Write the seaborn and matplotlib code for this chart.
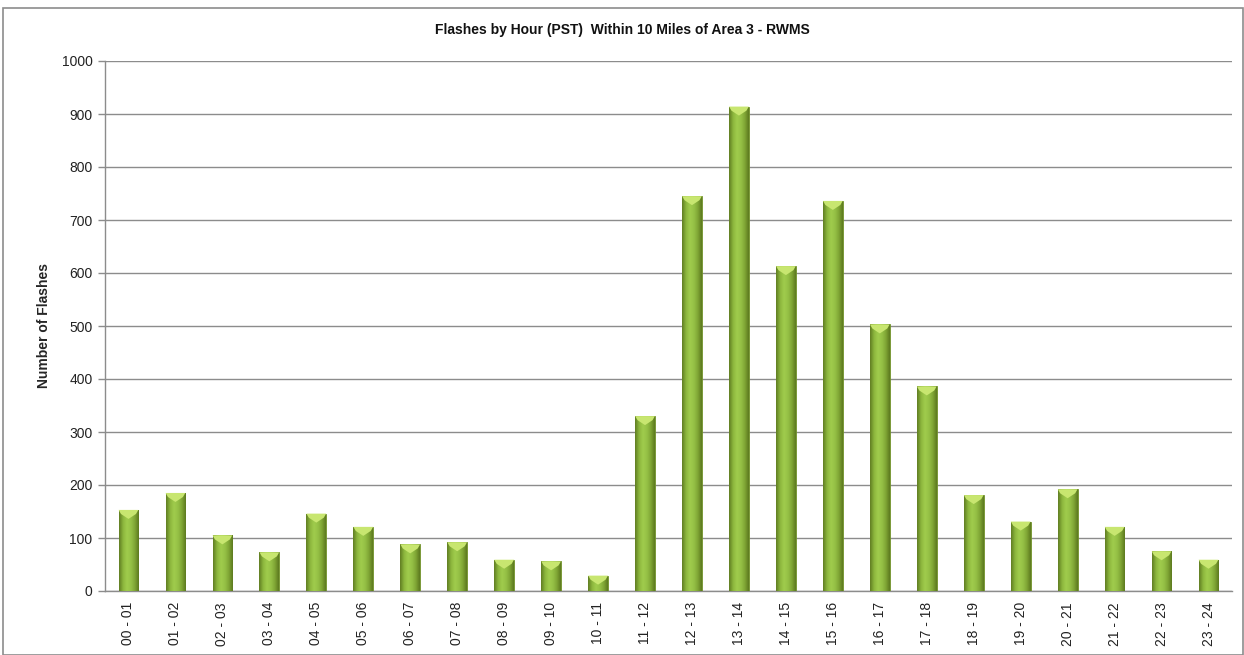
import numpy as np
import pandas as pd
import matplotlib
matplotlib.use("Agg")
import matplotlib.pyplot as plt
from matplotlib.colors import LinearSegmentedColormap
from matplotlib.patches import Rectangle
import seaborn as sns

hours = ["00 - 01", "01 - 02", "02 - 03", "03 - 04", "04 - 05", "05 - 06",
         "06 - 07", "07 - 08", "08 - 09", "09 - 10", "10 - 11", "11 - 12",
         "12 - 13", "13 - 14", "14 - 15", "15 - 16", "16 - 17", "17 - 18",
         "18 - 19", "19 - 20", "20 - 21", "21 - 22", "22 - 23", "23 - 24"]
flashes = [153, 185, 105, 73, 146, 121, 88, 92, 59, 56, 29, 330,
           745, 914, 613, 736, 503, 386, 181, 131, 192, 121, 75, 59]
y_ticks = list(range(0, 1001, 100))

df = pd.DataFrame({"hour": hours, "flashes": flashes})

sns.set_theme(style="white")
plt.rcParams["font.family"] = ["Liberation Sans", "DejaVu Sans"]

fig = plt.figure(figsize=(12.44, 6.55), dpi=100)
ax = fig.add_axes([105 / 1244, 1 - 591 / 655, (1232 - 105) / 1244, (591 - 61) / 655])

sns.barplot(data=df, x="hour", y="flashes", color="#8db83e", width=0.42,
            saturation=1, ax=ax, zorder=3)

# Shaded cylinder-like fill for each bar
shade = LinearSegmentedColormap.from_list(
    "bar_shade", ["#607d22", "#8cb63d", "#a0cc4d", "#96c146", "#80a635", "#5c791f"])
grad = np.linspace(0, 1, 64).reshape(1, -1)
cap_h = 17  # bevel depth in data units
for patch in ax.patches:
    x0, y0 = patch.get_x(), patch.get_y()
    w, h = patch.get_width(), patch.get_height()
    patch.set_edgecolor("#6f8f2a")
    patch.set_linewidth(0.6)
    im = ax.imshow(grad, cmap=shade, aspect="auto",
                   extent=(x0, x0 + w, y0, y0 + h), zorder=4, interpolation="bicubic")
    im.set_clip_path(patch)
    # chevron-shaped bevel at the top of each bar
    top = y0 + h
    ch = min(cap_h, h)
    cap = plt.Polygon([[x0, top], [x0 + w, top], [x0 + w * 0.88, top - ch * 0.45],
                       [x0 + w * 0.5, top - ch], [x0 + w * 0.12, top - ch * 0.45]],
                      closed=True, facecolor="#c8e670", edgecolor="none", zorder=5)
    ax.add_patch(cap)

ax.set_xlim(-0.5, len(hours) - 0.5)
ax.set_ylim(0, 1000)
ax.set_yticks(y_ticks)
ax.set_yticklabels([str(t) for t in y_ticks], fontsize=10, color="#222222")
ax.yaxis.grid(True, color="#8c8c8c", linewidth=1.0, zorder=0)
ax.set_axisbelow(True)
ax.tick_params(axis="y", which="major", left=True, length=5, width=1,
               color="#8c8c8c", pad=4)
ax.tick_params(axis="x", bottom=False, pad=2)
ax.set_xticks(range(len(hours)))
ax.set_xticklabels(hours, rotation=90, fontsize=10, color="#222222")

for side in ["top", "right"]:
    ax.spines[side].set_visible(False)
for side in ["left", "bottom"]:
    ax.spines[side].set_color("#8c8c8c")
    ax.spines[side].set_linewidth(1.0)

ax.set_xlabel("")
ax.set_ylabel("Number of Flashes", fontsize=10, fontweight="bold", labelpad=8)
fig.text(0.5, 1 - 30 / 655, "Flashes by Hour (PST)  Within 10 Miles of Area 3 - RWMS",
         ha="center", va="center", fontsize=10, fontweight="bold", color="#111111")

# outer chart frame
fig.add_artist(Rectangle((3 / 1244, 0), 1 - 3 / 1244 - 0.001, 1 - 8 / 655,
                         transform=fig.transFigure, fill=False,
                         edgecolor="#8c8c8c", linewidth=1.2))

fig.savefig("out.png", dpi=100)
